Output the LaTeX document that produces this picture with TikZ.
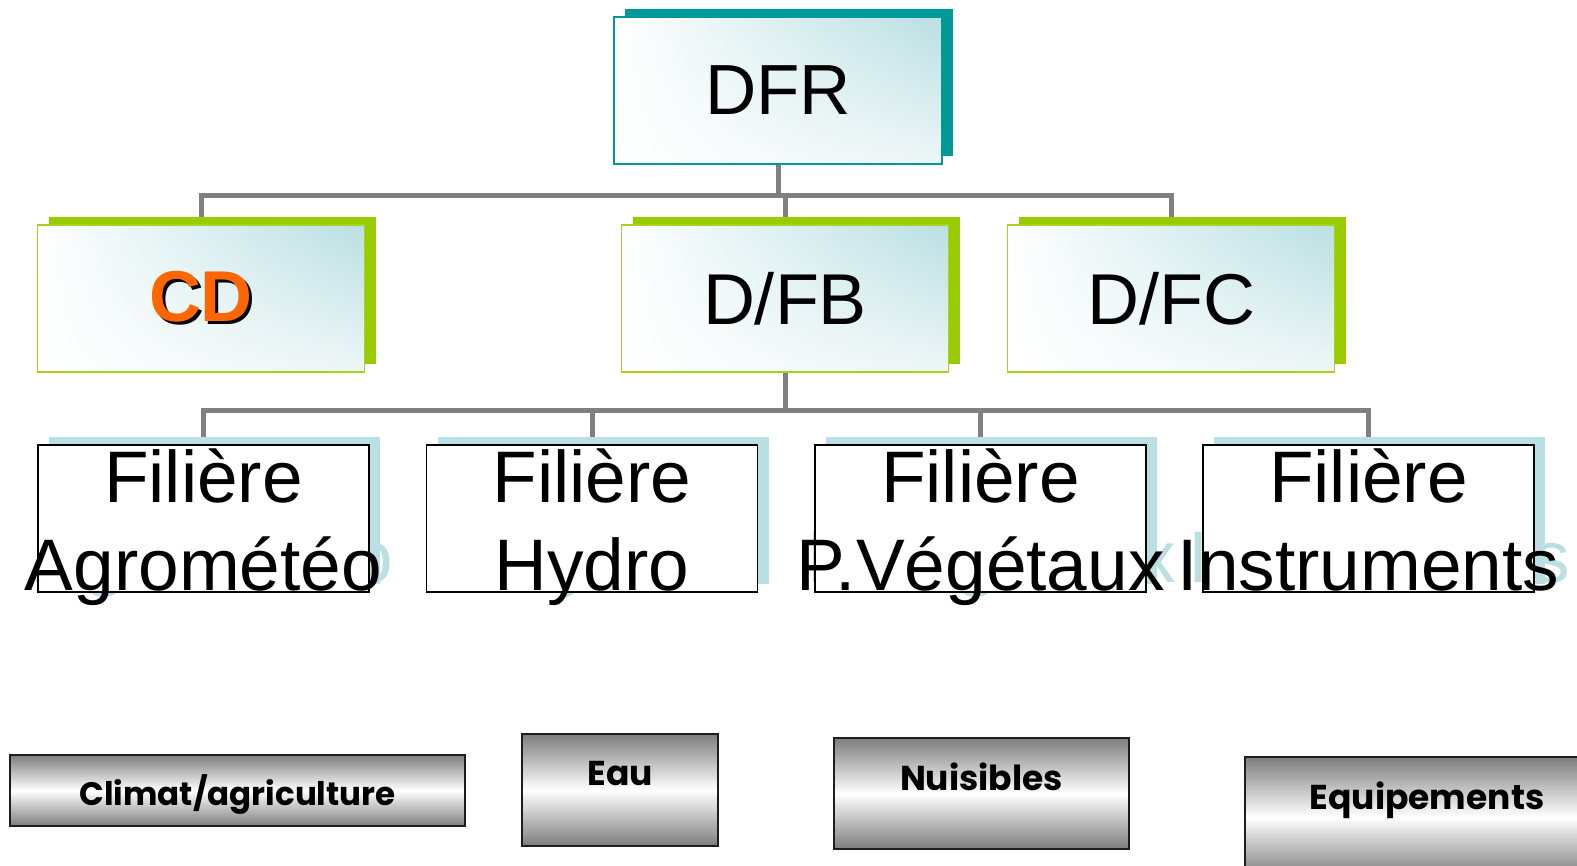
\documentclass[tikz,border=0pt]{standalone}
\usepackage{fontspec}
\setmainfont{Liberation Sans}
\newfontfamily\themefont{Poppins}
\usetikzlibrary{shapes.geometric, shadings, shadows}
\definecolor{dfrteal}{RGB}{0,153,153}
\definecolor{greenbar}{RGB}{153,204,0}
\definecolor{greenedge}{RGB}{166,212,30}
\definecolor{tealfade}{RGB}{185,223,226}
\definecolor{tealpale}{RGB}{238,246,247}
\definecolor{filshade}{RGB}{187,224,227}
\definecolor{linkgrey}{RGB}{128,128,128}
\definecolor{cdorange}{RGB}{255,102,0}
\definecolor{greyedge}{RGB}{125,125,125}
\definecolor{boxedge}{RGB}{30,30,30}
\tikzstyle{topbox} = [rectangle, minimum width=328pt, minimum height=147pt, inner sep=0pt, draw=dfrteal, line width=1.5pt, shade, upper left=white, upper right=tealfade, lower left=white, lower right=tealpale, font=\fontsize{71}{80}\selectfont, drop shadow={shadow xshift=11pt, shadow yshift=8pt, fill=dfrteal, opacity=1}]
\tikzstyle{midbox} = [rectangle, minimum width=327pt, minimum height=147pt, inner sep=0pt, draw=greenedge, line width=1.5pt, shade, upper left=white, upper right=tealfade, lower left=white, lower right=tealpale, font=\fontsize{72}{80}\selectfont, drop shadow={shadow xshift=11pt, shadow yshift=8pt, fill=greenbar, opacity=1}]
\tikzstyle{filbox} = [rectangle, minimum width=331pt, minimum height=147pt, inner sep=0pt, draw=black, line width=1.2pt, fill=white]
\tikzstyle{filshade} = [rectangle, minimum width=331pt, minimum height=147pt, inner sep=0pt, fill=filshade]
\tikzstyle{filtext} = [align=center, inner sep=0pt, text height=145pt, text depth=2pt, font=\fontsize{73}{88}\selectfont]
\tikzstyle{filghost} = [filtext, text=filshade]
\tikzstyle{greybox} = [rectangle, draw=boxedge, line width=1.5pt, top color=greyedge, bottom color=greyedge, middle color=white, inner sep=0pt, font=\themefont\bfseries\fontsize{34.5}{40}\selectfont]
\tikzstyle{link} = [line width=5pt, draw=linkgrey]
\pgfdeclarelayer{back}
\pgfdeclarelayer{shade}
\pgfsetlayers{back,shade,main}
\newcommand{\shadowed}[1]{\makebox[0pt][l]{\hspace{3pt}\raisebox{-3pt}{\textcolor{black}{#1}}}\textcolor{cdorange}{#1}}
\newcommand{\filiere}[3]{%
\node (#1) [filbox, #2] {};
\node (#1txt) [filtext] at (#1) {#3};
\begin{pgfonlayer}{shade}
\node (#1shade) [filshade] at ([xshift=11pt, yshift=8pt]#1.center) {};
\node (#1ghost) [filghost] at (#1shade) {#3};
\end{pgfonlayer}}

\begin{document}
\begin{tikzpicture}[x=1pt, y=-1pt, node distance=208pt]
\useasboundingbox (0,0) rectangle (1577,865);
\node (dfr) [topbox] at (778,90.5) {DFR};
\node (cd) [midbox, below of=dfr, xshift=-577pt] {\bfseries\shadowed{CD}};
\node (dfb) [midbox, below of=dfr, xshift=7pt] {D/FB};
\node (dfc) [midbox, below of=dfr, xshift=393pt] {D/FC};
\filiere{fa}{below of=dfb, xshift=-581.5pt, yshift=-12pt}{Filière\\Agrométéo}
\filiere{fb}{below of=dfb, xshift=-193pt, yshift=-12pt}{Filière\\Hydro}
\filiere{fc}{below of=dfb, xshift=195.5pt, yshift=-12pt}{Filière\\P.Végétaux}
\filiere{fd}{below of=dfb, xshift=583.5pt, yshift=-12pt}{Filière\\Instruments}
\node (clim) [greybox, minimum width=455pt, text height=50pt, text depth=21pt, font={\themefont\bfseries\fontsize{32.5}{40}\selectfont}, below of=fa, xshift=34pt, yshift=-64pt] {Climat/agriculture};
\node (eau) [greybox, minimum width=196pt, text height=51pt, text depth=61pt, below of=fb, xshift=28pt, yshift=-63.5pt] {Eau};
\node (nuis) [greybox, minimum width=295pt, text height=52pt, text depth=59pt, below of=fc, xshift=1pt, yshift=-67pt] {Nuisibles};
\node (equip) [greybox, minimum width=364pt, text height=52pt, text depth=68pt, below of=fd, xshift=58.5pt, yshift=-90.5pt] {Equipements};
\begin{pgfonlayer}{back}
\draw[link] (dfr.south) -- ++(0,30.5) -| (cd.north);
\draw[link] (dfr.south) -- ++(0,30.5) -| (dfb.north);
\draw[link] (dfr.south) -- ++(0,30.5) -| (dfc.north);
\draw[link] (dfb.south) -- ++(0,37.5) -| (fa.north);
\draw[link] (dfb.south) -- ++(0,37.5) -| (fb.north);
\draw[link] (dfb.south) -- ++(0,37.5) -| (fc.north);
\draw[link] (dfb.south) -- ++(0,37.5) -| (fd.north);
\end{pgfonlayer}
\end{tikzpicture}
\end{document}
